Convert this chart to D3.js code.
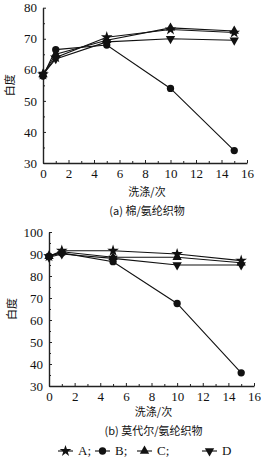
<html>
<head>
<style>
  body { margin: 0; background: #fff; }
  text { fill: #111; }
</style>
</head>
<body>
<svg id="chart" width="261" height="460"></svg>
<script src="https://d3js.org/d3.v7.js"></script>
<script>
// washing counts
var washes = [0, 1, 5, 10, 15];
var seriesNames = ["A", "B", "C", "D"];

// (a) cotton / spandex
var cottonA = [58.5, 64, 70.5, 73, 72];
var cottonB = [58, 66.5, 68, 54, 34];
var cottonC = [58.5, 65, 69.5, 73.5, 72.5];
var cottonD = [58.5, 63.5, 69, 70, 69.5];

// (b) modal / spandex
var modalA = [89, 91.5, 91.5, 90, 87];
var modalB = [89, 90.5, 86.5, 67.5, 36];
var modalC = [89, 91, 88.5, 88.5, 86];
var modalD = [88.5, 90, 88, 85, 85];

var xTicks = [0, 2, 4, 6, 8, 10, 12, 14, 16];
var yTicksA = [30, 40, 50, 60, 70, 80];
var yTicksB = [30, 40, 50, 60, 70, 80, 90, 100];

var svg = d3.select("#chart");
var numFont = "'Liberation Serif', serif";
var cjkFont = "'Noto Sans CJK SC', sans-serif";

var symbols = {
  A: { type: d3.symbolStar, size: 42, rot: 0 },
  B: { type: d3.symbolCircle, size: 42, rot: 0 },
  C: { type: d3.symbolTriangle, size: 38, rot: 0 },
  D: { type: d3.symbolTriangle, size: 38, rot: 180 }
};

function drawPanel(opt) {
  var x = d3.scaleLinear().domain([0, 16]).range([opt.left, opt.right]);
  var y = d3.scaleLinear().domain(opt.yDomain).range([opt.bottom, opt.top]);
  var g = svg.append("g");

  // x axis
  g.append("g")
    .attr("transform", "translate(0," + opt.bottom + ")")
    .call(d3.axisBottom(x).tickValues(xTicks).tickSizeInner(-3).tickSizeOuter(0).tickPadding(6));
  g.append("g")
    .attr("transform", "translate(0," + opt.bottom + ")")
    .call(d3.axisBottom(x).tickValues(d3.range(1, 16, 2)).tickSize(-2).tickFormat(""))
    .call(s => s.select(".domain").remove());

  // y axis
  g.append("g")
    .attr("transform", "translate(" + opt.left + ",0)")
    .call(d3.axisLeft(y).tickValues(opt.yTicks).tickSizeInner(-3).tickSizeOuter(0).tickPadding(6));
  g.append("g")
    .attr("transform", "translate(" + opt.left + ",0)")
    .call(d3.axisLeft(y).tickValues(d3.range(opt.yDomain[0] + 5, opt.yDomain[1], 10)).tickSize(-2).tickFormat(""))
    .call(s => s.select(".domain").remove());

  g.selectAll(".domain").attr("stroke", "#222").attr("stroke-width", 1.4);
  g.selectAll(".tick line").attr("stroke", "#222");
  g.selectAll(".tick text")
    .style("font-family", numFont)
    .style("font-size", "13px")
    .attr("fill", "#111");

  // axis titles
  g.append("text")
    .attr("transform", "translate(" + opt.ylabX + "," + ((opt.top + opt.bottom) / 2) + ") rotate(-90)")
    .attr("text-anchor", "middle")
    .attr("dominant-baseline", "middle")
    .style("font-family", cjkFont)
    .style("font-size", "11px")
    .text("白度");
  g.append("text")
    .attr("x", (opt.left + opt.right) / 2 + 2)
    .attr("y", opt.xlabY)
    .attr("text-anchor", "middle")
    .style("font-family", cjkFont)
    .style("font-size", "11px")
    .text("洗涤/次");
  g.append("text")
    .attr("x", (opt.left + opt.right) / 2 + 2)
    .attr("y", opt.capY)
    .attr("text-anchor", "middle")
    .style("font-family", cjkFont)
    .style("font-size", "11px")
    .text(opt.caption);

  var line = d3.line().x((d, i) => x(washes[i])).y(d => y(d));

  opt.series.forEach(function (vals, k) {
    var name = seriesNames[k];
    g.append("path")
      .datum(vals)
      .attr("d", line)
      .attr("fill", "none")
      .attr("stroke", "#111")
      .attr("stroke-width", 1.1);
    var sym = symbols[name];
    g.selectAll(".m" + name)
      .data(vals)
      .enter()
      .append("path")
      .attr("d", d3.symbol().type(sym.type).size(sym.size))
      .attr("transform", (d, i) => "translate(" + x(washes[i]) + "," + y(d) + ") rotate(" + sym.rot + ")")
      .attr("fill", "#111");
  });
}

drawPanel({
  left: 43, right: 247, top: 7.7, bottom: 163,
  yDomain: [30, 80], yTicks: yTicksA,
  ylabX: 11, xlabY: 196, capY: 215,
  caption: "(a) 棉/氨纶织物",
  series: [cottonA, cottonB, cottonC, cottonD]
});

drawPanel({
  left: 49, right: 254, top: 232, bottom: 386,
  yDomain: [30, 100], yTicks: yTicksB,
  ylabX: 13, xlabY: 416, capY: 435,
  caption: "(b) 莫代尔/氨纶织物",
  series: [modalA, modalB, modalC, modalD]
});

// legend
var legendX = [58, 95, 137, 202];
var legendLabels = ["A;", "B;", "C;", "D"];
var legend = svg.append("g");
seriesNames.forEach(function (name, k) {
  var lx = legendX[k], ly = 451;
  legend.append("line")
    .attr("x1", lx).attr("x2", lx + 15).attr("y1", ly).attr("y2", ly)
    .attr("stroke", "#111").attr("stroke-width", 1.1);
  var sym = symbols[name];
  legend.append("path")
    .attr("d", d3.symbol().type(sym.type).size(sym.size))
    .attr("transform", "translate(" + (lx + 7.5) + "," + ly + ") rotate(" + sym.rot + ")")
    .attr("fill", "#111");
  legend.append("text")
    .attr("x", lx + 20).attr("y", ly + 4)
    .style("font-family", numFont)
    .style("font-size", "13px")
    .text(legendLabels[k]);
});
</script>
</body>
</html>
